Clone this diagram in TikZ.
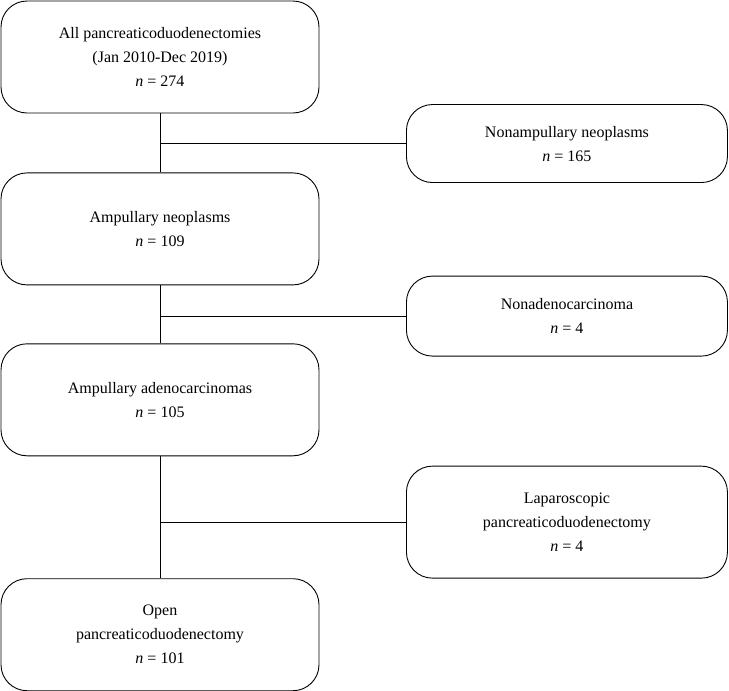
\documentclass[tikz,border=0pt]{standalone}
\usepackage{fontspec}
\setmainfont{Liberation Serif}
\usetikzlibrary{positioning}

\begin{document}
\begin{tikzpicture}[-,node distance=59pt,line width=0.9pt,
                    main node/.style={rectangle,draw,rounded corners=26pt,align=center,
                      minimum width=318pt,minimum height=112pt,font=\fontsize{16}{24}\selectfont},
                    side node/.style={main node,minimum width=321pt}]
  \useasboundingbox (0,0) rectangle (729pt,-691pt);

  \node[main node] (1) at (160pt,-57pt) {All pancreaticoduodenectomies\\(Jan 2010-Dec 2019)\\\textit{n} = 274};
  \node[main node] (2) [below=of 1] {Ampullary neoplasms\\\textit{n} = 109};
  \node[main node] (3) [below=58pt of 2] {Ampullary adenocarcinomas\\\textit{n} = 105};
  \node[main node] (4) [below=122pt of 3] {Open\\pancreaticoduodenectomy\\\textit{n} = 101};

  \draw (1) -- coordinate[pos=0.51] (m1) (2);
  \draw (2) -- coordinate[pos=0.53] (m2) (3);
  \draw (3) -- coordinate[pos=0.54] (m3) (4);

  \node[side node,minimum height=78pt] (5) [right=246pt of m1] {Nonampullary neoplasms\\\textit{n} = 165};
  \node[side node,minimum height=80pt] (6) [right=246pt of m2] {Nonadenocarcinoma\\\textit{n} = 4};
  \node[side node] (7) [right=246pt of m3] {Laparoscopic\\pancreaticoduodenectomy\\\textit{n} = 4};

  \draw (m1) -- (5);
  \draw (m2) -- (6);
  \draw (m3) -- (7);
\end{tikzpicture}
\end{document}
